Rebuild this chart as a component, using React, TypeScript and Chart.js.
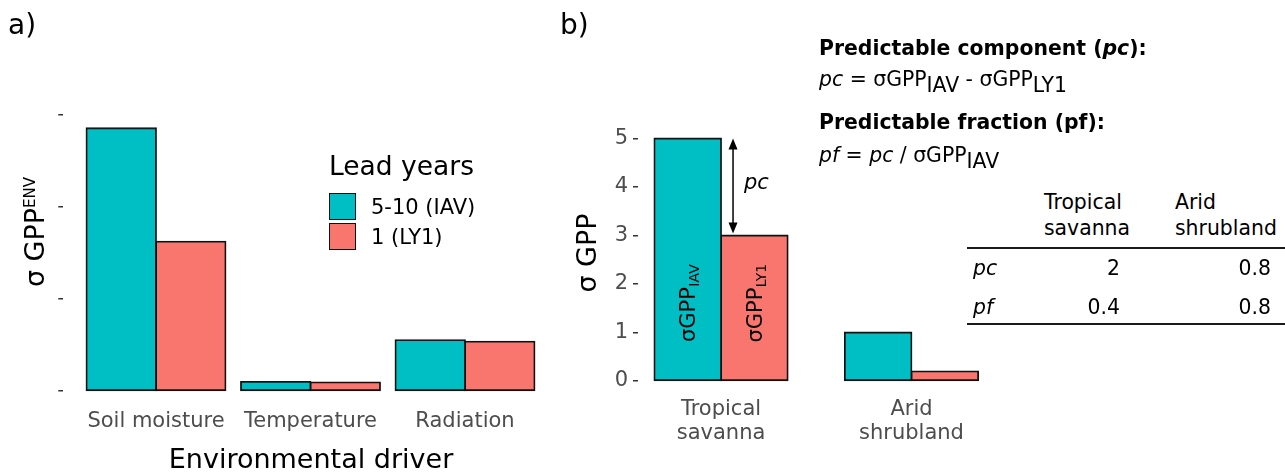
import React, { useEffect, useRef } from 'react';
import { Chart, registerables } from 'chart.js';

Chart.register(...registerables);

// ---------- data ----------
const driverCategories = ['Soil moisture', 'Temperature', 'Radiation'];
const driverIAV = [2.85, 0.1, 0.553];
const driverLY1 = [1.62, 0.094, 0.535];
const driverYTicks = [0, 1, 2, 3];

const biomeCategories = [
  ['Tropical', 'savanna'],
  ['Arid', 'shrubland'],
];
const biomeIAV = [5, 1];
const biomeLY1 = [3, 0.2];
const biomeYTicks = [0, 1, 2, 3, 4, 5];

const seriesLabels = ['5-10 (IAV)', '1 (LY1)'];
const tableColumns = [
  ['Tropical', 'savanna'],
  ['Arid', 'shrubland'],
];
const tableRowNames = ['pc', 'pf'];
const pcValues = ['2', '0.8'];
const pfValues = ['0.4', '0.8'];

// ---------- styles ----------
const FONT = "'DejaVu Sans', 'Noto Sans', sans-serif";
const TEAL = '#00BFC4';
const SALMON = '#F8766D';
const OUTLINE = '#111111';
const TICK_TEXT = '#4D4D4D';
const TICK_MARK = '#333333';
const NOTE_SIZE = 20.4;
const BAR_BORDER = 1.8;

type LabelProps = {
  x: number;
  y: number;
  size: number;
  align?: 'left' | 'right' | 'center';
  weight?: string | number;
  italic?: boolean;
  color?: string;
  children: React.ReactNode;
};

function Label({ x, y, size, align = 'left', weight = 'normal', italic = false, color = '#000', children }: LabelProps) {
  const tx = align === 'left' ? '0' : align === 'right' ? '-100%' : '-50%';
  return (
    <div
      style={{
        position: 'absolute',
        left: x,
        top: y - 0.48 * size,
        fontSize: size,
        lineHeight: `${size}px`,
        fontFamily: FONT,
        fontWeight: weight as any,
        fontStyle: italic ? 'italic' : 'normal',
        color,
        whiteSpace: 'nowrap',
        transform: `translateX(${tx})`,
      }}
    >
      {children}
    </div>
  );
}

const Sub = ({ children }: { children: React.ReactNode }) => (
  <span style={{ position: 'relative', top: '0.26em', lineHeight: 0 }}>{children}</span>
);

function drawRotatedSub(ctx: CanvasRenderingContext2D, cx: number, cy: number, main: string, sub: string) {
  const mainSize = 21;
  const subSize = 14;
  ctx.save();
  ctx.translate(cx, cy);
  ctx.rotate(-Math.PI / 2);
  ctx.fillStyle = '#000';
  ctx.textBaseline = 'alphabetic';
  ctx.textAlign = 'left';
  ctx.font = `${mainSize}px ${FONT}`;
  const w1 = ctx.measureText(main).width;
  ctx.font = `${subSize}px ${FONT}`;
  const w2 = ctx.measureText(sub).width;
  const start = -(w1 + w2) / 2;
  const base = 0.365 * mainSize;
  ctx.font = `${mainSize}px ${FONT}`;
  ctx.fillText(main, start, base);
  ctx.font = `${subSize}px ${FONT}`;
  ctx.fillText(sub, start + w1 + 0.5, base + 3.5);
  ctx.restore();
}

function drawArrowHead(ctx: CanvasRenderingContext2D, x: number, y: number, dir: number) {
  ctx.beginPath();
  ctx.moveTo(x, y);
  ctx.lineTo(x - 4.5, y - dir * 11);
  ctx.lineTo(x + 4.5, y - dir * 11);
  ctx.closePath();
  ctx.fill();
}

const biomePlugin = {
  id: 'biomeAnnotations',
  afterDatasetsDraw(chart: any) {
    const ctx: CanvasRenderingContext2D = chart.ctx;
    const yScale = chart.scales.y;
    const iavBar = chart.getDatasetMeta(0).data[0];
    const ly1Bar = chart.getDatasetMeta(1).data[0];
    const labelY = yScale.getPixelForValue(1.6);
    drawRotatedSub(ctx, iavBar.x, labelY, 'σGPP', 'IAV');
    drawRotatedSub(ctx, ly1Bar.x, labelY, 'σGPP', 'LY1');

    // double arrow showing pc
    const ax = iavBar.x + iavBar.width / 2 + 12;
    const yTop = yScale.getPixelForValue(biomeIAV[0]);
    const yBot = yScale.getPixelForValue(biomeLY1[0]) - 2;
    ctx.save();
    ctx.strokeStyle = '#000';
    ctx.fillStyle = '#000';
    ctx.lineWidth = 1.5;
    ctx.beginPath();
    ctx.moveTo(ax, yTop + 8);
    ctx.lineTo(ax, yBot - 8);
    ctx.stroke();
    drawArrowHead(ctx, ax, yTop, -1);
    drawArrowHead(ctx, ax, yBot, 1);
    ctx.font = `italic 21px ${FONT}`;
    ctx.textBaseline = 'middle';
    ctx.textAlign = 'left';
    ctx.fillText('pc', ax + 11, yScale.getPixelForValue((biomeIAV[0] + biomeLY1[0]) / 2) - 3);
    ctx.restore();
  },
};

function barDataset(label: string, values: number[], color: string, catPct: number) {
  return {
    label,
    data: values.map((v, i) => ({ x: i + 1, y: v })),
    backgroundColor: color,
    borderColor: OUTLINE,
    borderWidth: BAR_BORDER,
    inflateAmount: BAR_BORDER / 2,
    borderSkipped: false as const,
    categoryPercentage: catPct,
    barPercentage: 1,
  };
}

export default function App() {
  const refA = useRef<HTMLCanvasElement>(null);
  const refB = useRef<HTMLCanvasElement>(null);

  useEffect(() => {
    const chartA = new Chart(refA.current as HTMLCanvasElement, {
      type: 'bar',
      data: {
        datasets: [
          barDataset(seriesLabels[0], driverIAV, TEAL, 0.9),
          barDataset(seriesLabels[1], driverLY1, SALMON, 0.9),
        ] as any,
      },
      options: {
        animation: false,
        responsive: false,
        maintainAspectRatio: false,
        layout: { padding: { top: 113.5, right: 12.3, left: 0, bottom: 0 } },
        plugins: { legend: { display: false }, tooltip: { enabled: false } },
        scales: {
          x: {
            type: 'linear',
            offset: false,
            min: 0.4,
            max: 3.6,
            afterBuildTicks: (ax: any) => {
              ax.ticks = driverCategories.map((_, i) => ({ value: i + 1 }));
            },
            afterFit: (ax: any) => {
              ax.height = 69.8;
            },
            grid: { display: false, drawTicks: false, offset: false },
            border: { display: false },
            ticks: {
              callback: (v: any) => driverCategories[Math.round(Number(v)) - 1] ?? '',
              font: { family: FONT, size: 21 },
              color: TICK_TEXT,
              padding: 5.2,
              maxRotation: 0,
              autoSkip: false,
            },
          },
          y: {
            min: -0.143,
            max: 3.01,
            afterBuildTicks: (ax: any) => {
              ax.ticks = driverYTicks.map((v) => ({ value: v }));
            },
            afterFit: (ax: any) => {
              ax.width = 63.3;
            },
            grid: { drawOnChartArea: false, drawTicks: true, tickLength: 5, color: TICK_MARK, lineWidth: 1.5 },
            border: { display: false },
            ticks: { callback: () => '', padding: 0 },
          },
        },
      } as any,
    });

    const chartB = new Chart(refB.current as HTMLCanvasElement, {
      type: 'bar',
      data: {
        datasets: [
          barDataset(seriesLabels[0], biomeIAV, TEAL, 0.7),
          barDataset(seriesLabels[1], biomeLY1, SALMON, 0.7),
        ] as any,
      },
      options: {
        animation: false,
        responsive: false,
        maintainAspectRatio: false,
        layout: { padding: { top: 126.4, right: 15.5, left: 0, bottom: 0 } },
        plugins: { legend: { display: false }, tooltip: { enabled: false } },
        scales: {
          x: {
            type: 'linear',
            offset: false,
            min: 0.564,
            max: 2.436,
            afterBuildTicks: (ax: any) => {
              ax.ticks = biomeCategories.map((_, i) => ({ value: i + 1 }));
            },
            afterFit: (ax: any) => {
              ax.height = 80.9;
            },
            grid: { display: false, drawTicks: false, offset: false },
            border: { display: false },
            ticks: {
              callback: (v: any) => biomeCategories[Math.round(Number(v)) - 1] ?? '',
              font: { family: FONT, size: 21, lineHeight: '24px' },
              color: TICK_TEXT,
              padding: 4.9,
              maxRotation: 0,
              autoSkip: false,
            },
          },
          y: {
            min: -0.25,
            max: 5.25,
            afterBuildTicks: (ax: any) => {
              ax.ticks = biomeYTicks.map((v) => ({ value: v }));
            },
            afterFit: (ax: any) => {
              ax.width = 78;
            },
            grid: { drawOnChartArea: false, drawTicks: true, tickLength: 5, color: TICK_MARK, lineWidth: 1.5 },
            border: { display: false },
            ticks: {
              font: { family: FONT, size: 21 },
              color: TICK_TEXT,
              padding: 5,
            },
          },
        },
      } as any,
      plugins: [biomePlugin],
    });

    return () => {
      chartA.destroy();
      chartB.destroy();
    };
  }, []);

  return (
    <div style={{ position: 'absolute', left: 0, top: 0, width: 1285, height: 474, background: '#fff', overflow: 'hidden' }}>
      <canvas ref={refA} width={570} height={474} style={{ position: 'absolute', left: 0, top: 0 }} />
      <canvas ref={refB} width={450} height={474} style={{ position: 'absolute', left: 560, top: 0 }} />

      {/* panel tags */}
      <Label x={8} y={24} size={28}>a)</Label>
      <Label x={560} y={24} size={28}>b)</Label>

      {/* panel a axis titles */}
      <div
        style={{
          position: 'absolute',
          left: 34,
          top: 232,
          transform: 'translate(-50%,-50%) rotate(-90deg)',
          fontSize: 27,
          lineHeight: '27px',
          fontFamily: FONT,
          whiteSpace: 'nowrap',
          color: '#000',
        }}
      >
        σ GPP<span style={{ fontSize: 15, position: 'relative', top: -9, lineHeight: 0 }}>ENV</span>
      </div>
      <Label x={311} y={458} size={27} align="center">Environmental driver</Label>

      {/* panel a legend */}
      <Label x={329} y={166} size={26.5}>Lead years</Label>
      <div style={{ position: 'absolute', left: 329, top: 193, width: 27, height: 27, boxSizing: 'border-box', background: TEAL, border: `1.8px solid ${OUTLINE}` }} />
      <div style={{ position: 'absolute', left: 329, top: 222.5, width: 27, height: 27, boxSizing: 'border-box', background: SALMON, border: `1.8px solid ${OUTLINE}` }} />
      <Label x={371} y={206.7} size={21}>{seriesLabels[0]}</Label>
      <Label x={371} y={236.7} size={21}>{seriesLabels[1]}</Label>

      {/* panel b axis title */}
      <div
        style={{
          position: 'absolute',
          left: 586,
          top: 253,
          transform: 'translate(-50%,-50%) rotate(-90deg)',
          fontSize: 27,
          lineHeight: '27px',
          fontFamily: FONT,
          whiteSpace: 'nowrap',
          color: '#000',
        }}
      >
        σ GPP
      </div>

      {/* panel b formulas */}
      <Label x={819} y={48} size={NOTE_SIZE} weight="bold">
        Predictable component (<i>pc</i>):
      </Label>
      <Label x={819} y={79} size={NOTE_SIZE}>
        <i>pc</i> = σGPP<Sub>IAV</Sub> - σGPP<Sub>LY1</Sub>
      </Label>
      <Label x={819} y={122} size={NOTE_SIZE} weight="bold">
        Predictable fraction (pf):
      </Label>
      <Label x={819} y={155} size={NOTE_SIZE}>
        <i>pf</i> = <i>pc</i> / σGPP<Sub>IAV</Sub>
      </Label>

      {/* panel b table */}
      <Label x={1044} y={202} size={NOTE_SIZE}>{tableColumns[0][0]}</Label>
      <Label x={1044} y={228} size={NOTE_SIZE}>{tableColumns[0][1]}</Label>
      <Label x={1175} y={202} size={NOTE_SIZE}>{tableColumns[1][0]}</Label>
      <Label x={1175} y={228} size={NOTE_SIZE}>{tableColumns[1][1]}</Label>
      <div style={{ position: 'absolute', left: 967, top: 247, width: 318, height: 2, background: '#1a1a1a' }} />
      <Label x={973} y={268} size={NOTE_SIZE} italic>{tableRowNames[0]}</Label>
      <Label x={1120} y={268} size={NOTE_SIZE} align="right">{pcValues[0]}</Label>
      <Label x={1271} y={268} size={NOTE_SIZE} align="right">{pcValues[1]}</Label>
      <Label x={973} y={307} size={NOTE_SIZE} italic>{tableRowNames[1]}</Label>
      <Label x={1120} y={307} size={NOTE_SIZE} align="right">{pfValues[0]}</Label>
      <Label x={1271} y={307} size={NOTE_SIZE} align="right">{pfValues[1]}</Label>
      <div style={{ position: 'absolute', left: 967, top: 323, width: 318, height: 2, background: '#1a1a1a' }} />
    </div>
  );
}
